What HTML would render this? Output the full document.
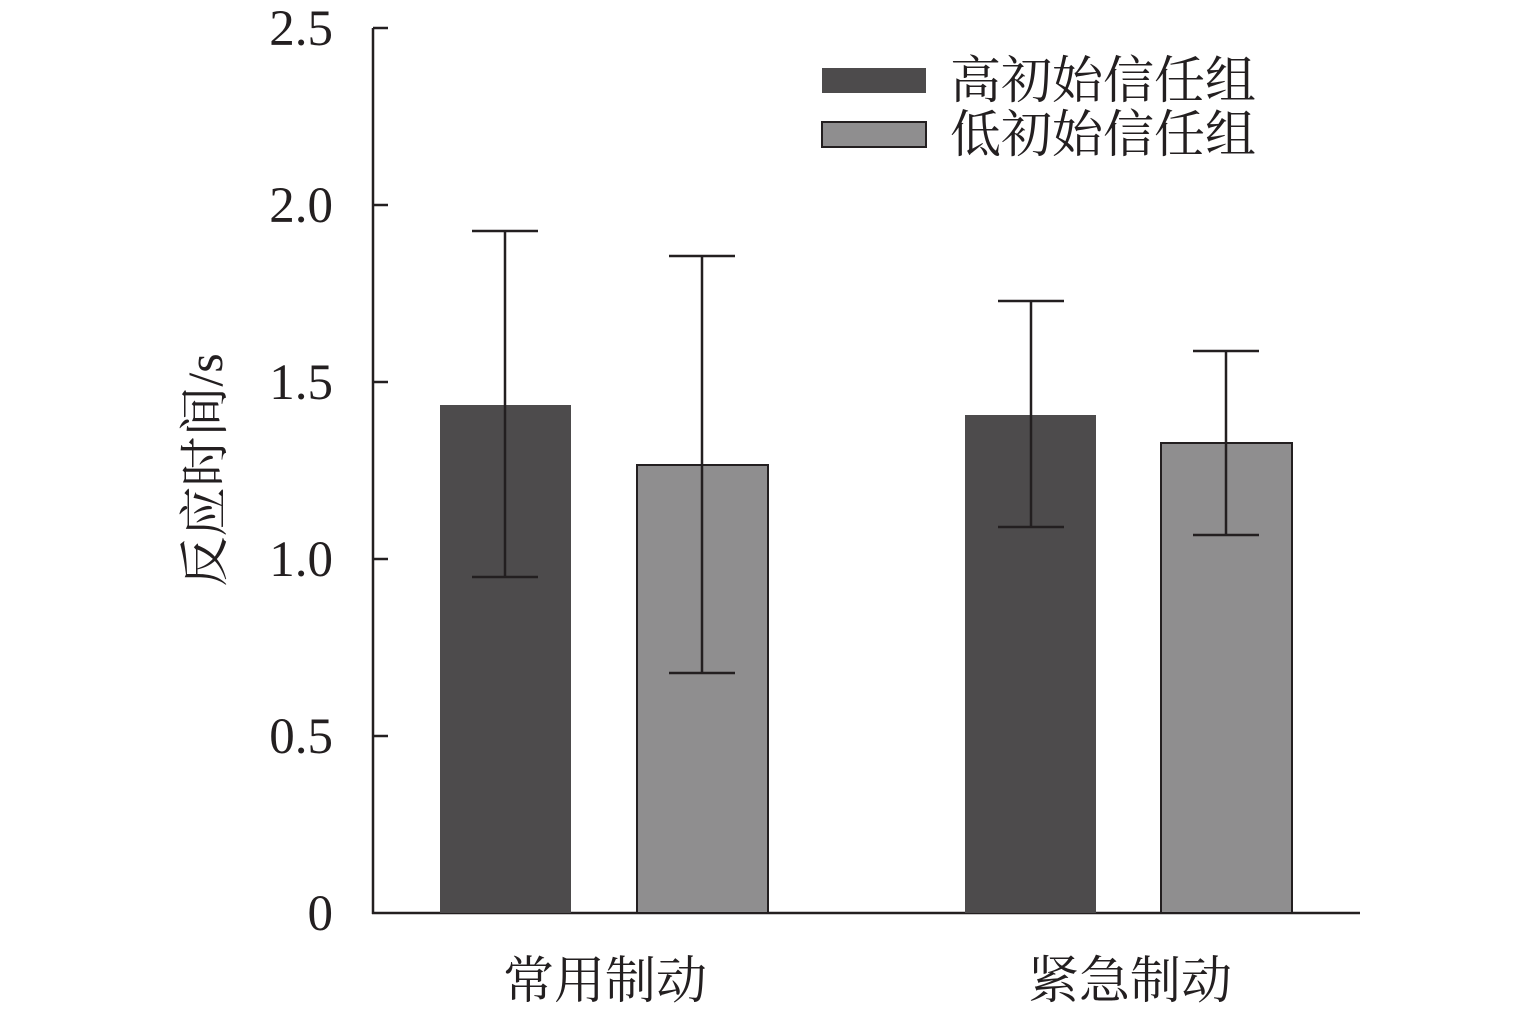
<!DOCTYPE html>
<html><head><meta charset="utf-8"><style>body{margin:0;background:#fff}</style></head>
<body>
<svg width="1535" height="1006" viewBox="0 0 1535 1006" xmlns="http://www.w3.org/2000/svg" font-family="'Liberation Serif','Noto Serif CJK SC',serif">
<rect width="1535" height="1006" fill="#fff"/>
<g stroke="#231f20" stroke-width="2.5" fill="none">
<line x1="373" y1="28" x2="373" y2="914"/>
<line x1="372" y1="913" x2="1360" y2="913"/>
<line x1="373" y1="28" x2="388" y2="28"/>
<line x1="373" y1="205" x2="388" y2="205"/>
<line x1="373" y1="382" x2="388" y2="382"/>
<line x1="373" y1="559" x2="388" y2="559"/>
<line x1="373" y1="736" x2="388" y2="736"/>
</g>
<g font-size="51" fill="#231f20" text-anchor="end">
<text x="333" y="45">2.5</text>
<text x="333" y="222">2.0</text>
<text x="333" y="399">1.5</text>
<text x="333" y="576">1.0</text>
<text x="333" y="753">0.5</text>
<text x="333" y="930">0</text>
</g>
<text transform="translate(222,470) rotate(-90)" font-size="50" text-anchor="middle" fill="#231f20">反应时间/s</text>
<rect x="440" y="405" width="131" height="508" fill="#4d4b4c"/>
<rect x="637" y="465" width="131" height="448" fill="#8f8e8f" stroke="#231f20" stroke-width="2"/>
<rect x="965" y="415" width="131" height="498" fill="#4d4b4c"/>
<rect x="1161" y="443" width="131" height="470" fill="#8f8e8f" stroke="#231f20" stroke-width="2"/>
<g stroke="#231f20" stroke-width="2.5">
<line x1="505" y1="231" x2="505" y2="577"/><line x1="472" y1="231" x2="538" y2="231"/><line x1="472" y1="577" x2="538" y2="577"/>
<line x1="702" y1="256" x2="702" y2="673"/><line x1="669" y1="256" x2="735" y2="256"/><line x1="669" y1="673" x2="735" y2="673"/>
<line x1="1031" y1="301" x2="1031" y2="527"/><line x1="998" y1="301" x2="1064" y2="301"/><line x1="998" y1="527" x2="1064" y2="527"/>
<line x1="1226" y1="351" x2="1226" y2="535"/><line x1="1193" y1="351" x2="1259" y2="351"/><line x1="1193" y1="535" x2="1259" y2="535"/>
</g>
<rect x="822" y="68" width="104" height="25" fill="#4d4b4c"/>
<rect x="822" y="122" width="104" height="25" fill="#8f8e8f" stroke="#231f20" stroke-width="2"/>
<g font-size="51" fill="#231f20">
<text x="950" y="98">高初始信任组</text>
<text x="950" y="152">低初始信任组</text>
<text x="605" y="998" text-anchor="middle">常用制动</text>
<text x="1130" y="998" text-anchor="middle">紧急制动</text>
</g>
</svg>
</body></html>
